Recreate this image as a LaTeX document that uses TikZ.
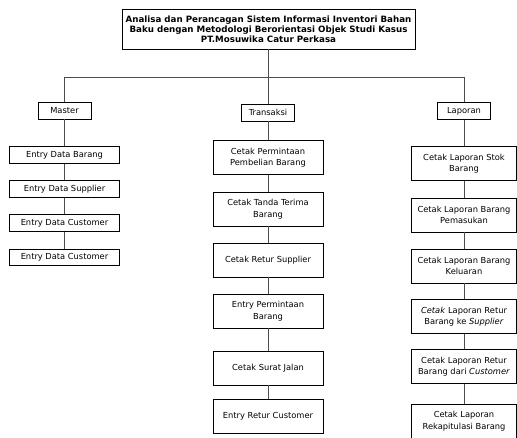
\documentclass[tikz,border=0pt]{standalone}
\usepackage{fontspec}
\setmainfont{DejaVu Sans}
\begin{document}
\begin{tikzpicture}[x=1pt,y=-1pt,
  box/.style={draw=black, line width=0.8pt, fill=white, align=center, inner sep=1pt,
    font=\fontsize{8.3}{11.5}\selectfont},
  head/.style={box, minimum width=53pt, minimum height=17pt},
  mbox/.style={box, minimum width=110pt, minimum height=16.5pt},
  tbox/.style={box, minimum width=110pt, minimum height=34pt},
  lbox/.style={box, minimum width=105pt, minimum height=34pt},
  conn/.style={draw=black!70, line width=0.9pt}]
\useasboundingbox (0,0) rectangle (517,437);
% title
\node[box, minimum width=293pt, minimum height=40pt,
  font=\bfseries\fontsize{8.7}{10}\selectfont] (title) at (268.5,29)
  {Analisa dan Perancagan Sistem Informasi Inventori Bahan\\
   Baku dengan Metodologi Berorientasi Objek Studi Kasus\\
   PT.Mosuwika Catur Perkasa};
% heads
\node[head] (master) at (64.5,110.5) {Master};
\node[head] (trans) at (268,112.5) {Transaksi};
\node[head] (lap) at (464,111) {Laporan};
% master column
\node[mbox] (m1) at (64.5,155) {Entry Data Barang};
\node[mbox] (m2) at (64.5,189) {Entry Data Supplier};
\node[mbox] (m3) at (64.5,223) {Entry Data Customer};
\node[mbox] (m4) at (64.5,257.5) {Entry Data Customer};
% transaksi column
\node[tbox] (t1) at (268,157.5) {Cetak Permintaan\\Pembelian Barang};
\node[tbox] (t2) at (268,209) {Cetak Tanda Terima\\Barang};
\node[tbox] (t3) at (268,260) {Cetak Retur Supplier};
\node[tbox] (t4) at (268,311) {Entry Permintaan\\Barang};
\node[tbox] (t5) at (268,368) {Cetak Surat Jalan};
\node[tbox] (t6) at (268,416) {Entry Retur Customer};
% laporan column
\node[lbox] (l1) at (464,163.5) {Cetak Laporan Stok\\Barang};
\node[lbox] (l2) at (464,215) {Cetak Laporan Barang\\Pemasukan};
\node[lbox] (l3) at (464,266) {Cetak Laporan Barang\\Keluaran};
\node[lbox] (l4) at (464,316.5) {\textit{Cetak} Laporan Retur\\Barang ke \textit{Supplier}};
\node[lbox] (l5) at (464,366.5) {Cetak Laporan Retur\\Barang dari \textit{Customer}};
\node[lbox] (l6) at (464,421) {Cetak Laporan\\Rekapitulasi Barang};
% bus
\coordinate (bus) at (270,77);
\coordinate (busL) at (master.north |- bus);
\coordinate (busM) at (trans.north |- bus);
\coordinate (busR) at (lap.north |- bus);
\draw[conn] (title.south) -- (title.south |- bus);
\draw[conn] (busL) -- (busR);
\draw[conn] (busL) -- (master.north);
\draw[conn] (busM) -- (trans.north);
\draw[conn] (busR) -- (lap.north);
\draw[conn] (master) -- (m1) -- (m2) -- (m3) -- (m4);
\draw[conn] (trans) -- (t1) -- (t2) -- (t3) -- (t4) -- (t5) -- (t6);
\draw[conn] (lap) -- (l1) -- (l2) -- (l3) -- (l4) -- (l5) -- (l6);
\end{tikzpicture}
\end{document}
